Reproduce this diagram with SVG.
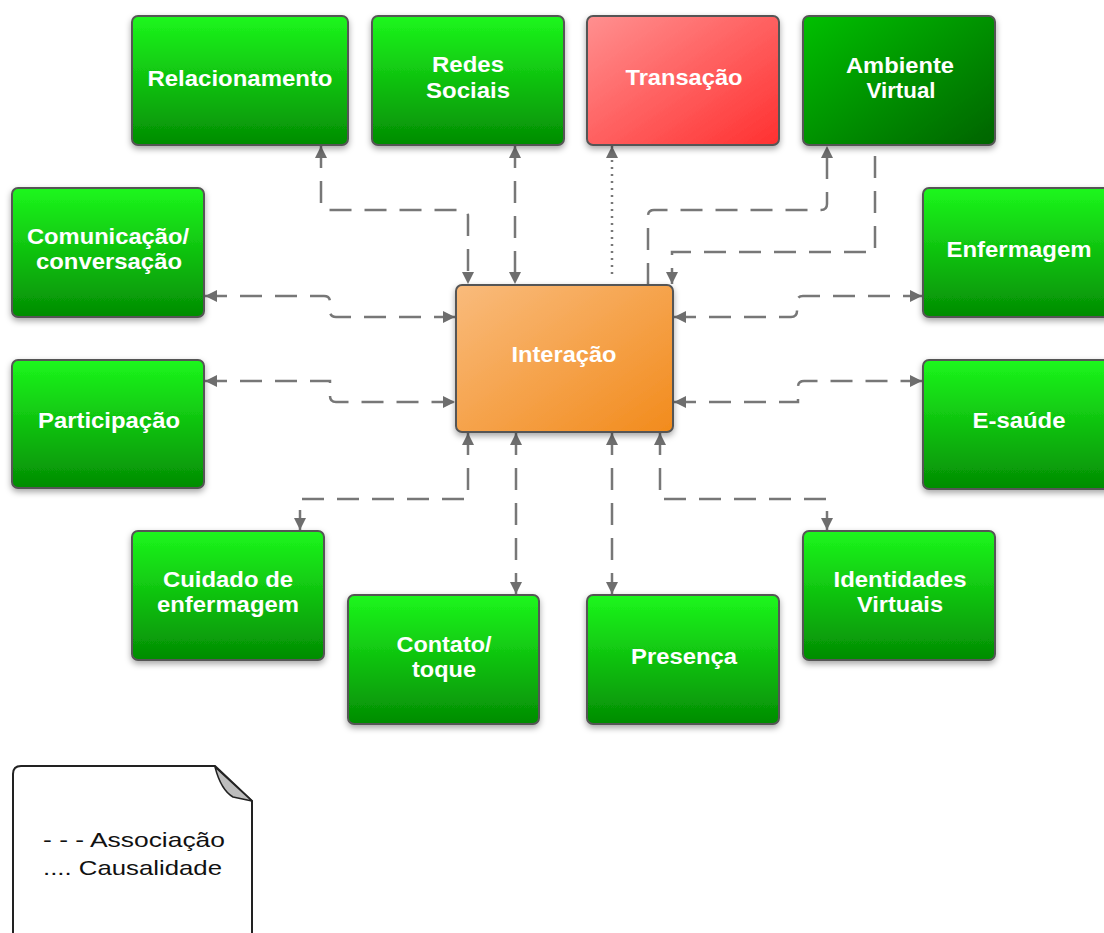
<svg xmlns="http://www.w3.org/2000/svg" width="1104" height="933" viewBox="0 0 1104 933">
<defs>
<linearGradient id="gGreen" x1="0" y1="0" x2="0" y2="1">
<stop offset="0" stop-color="#1cf71c"/>
<stop offset="1" stop-color="#038c03"/>
</linearGradient>
<linearGradient id="gDark" x1="0" y1="0" x2="1" y2="1">
<stop offset="0" stop-color="#00c000"/>
<stop offset="1" stop-color="#006300"/>
</linearGradient>
<linearGradient id="gRed" x1="0" y1="0" x2="1" y2="1">
<stop offset="0" stop-color="#ff9090"/>
<stop offset="1" stop-color="#ff3030"/>
</linearGradient>
<linearGradient id="gOrange" x1="0" y1="0" x2="1" y2="1">
<stop offset="0" stop-color="#f9bb7c"/>
<stop offset="1" stop-color="#f28b1c"/>
</linearGradient>
<filter id="shadow" x="-10%" y="-10%" width="125%" height="130%">
<feDropShadow dx="0" dy="3" stdDeviation="3" flood-color="#000" flood-opacity="0.35"/>
</filter>
<marker id="arrow" viewBox="0 0 12 12" refX="12" refY="6" markerWidth="12" markerHeight="12" markerUnits="userSpaceOnUse" orient="auto-start-reverse">
<path d="M0,0 L12,6 L0,12 Z" fill="#6e6e6e"/>
</marker>
</defs>
<style>
.box { stroke: #555; stroke-width: 2; filter: url(#shadow); }
.green { fill: url(#gGreen); }
.lbl { fill: #fff; font-family: "Liberation Sans", Arial, sans-serif; font-weight: bold; font-size: 22px; text-anchor: middle; }
.conn { fill: none; stroke: #777; stroke-width: 2.5; stroke-dasharray: 22 13; }
.dot { fill: none; stroke: #777; stroke-width: 2.5; stroke-dasharray: 2 5; }
.legend { font-family: "Liberation Sans", Arial, sans-serif; font-size: 21px; fill: #111; }
</style>
<rect width="1104" height="933" fill="#fff"/>

<g id="connectors">
<path class="conn" d="M321,146 V204 Q321,210 327,210 H462 Q468,210 468,216 V284" marker-start="url(#arrow)" marker-end="url(#arrow)"/>
<path class="conn" d="M515,146 V284" marker-start="url(#arrow)" marker-end="url(#arrow)"/>
<path class="dot" d="M612,274 V146" marker-end="url(#arrow)"/>
<path class="conn" d="M648,285 V216 Q648,210 654,210 H821 Q827,210 827,204 V146" marker-end="url(#arrow)"/>
<path class="conn" d="M875,156 V252 H672 V284" marker-end="url(#arrow)"/>
<path class="conn" d="M205,296 H324 Q330,296 330,302 V311 Q330,317 336,317 H455" marker-start="url(#arrow)" marker-end="url(#arrow)"/>
<path class="conn" d="M205,381 H330 V396 Q330,402 336,402 H455" marker-start="url(#arrow)" marker-end="url(#arrow)"/>
<path class="conn" d="M674,317 H791 Q797,317 797,311 V302 Q797,296 803,296 H922" marker-start="url(#arrow)" marker-end="url(#arrow)"/>
<path class="conn" d="M674,402 H798 V387 Q798,381 804,381 H922" marker-start="url(#arrow)" marker-end="url(#arrow)"/>
<path class="conn" d="M468,433 V499 H300 V530" marker-start="url(#arrow)" marker-end="url(#arrow)"/>
<path class="conn" d="M516,433 V594" marker-start="url(#arrow)" marker-end="url(#arrow)"/>
<path class="conn" d="M612,433 V594" marker-start="url(#arrow)" marker-end="url(#arrow)"/>
<path class="conn" d="M660,433 V499 H827 V530" marker-start="url(#arrow)" marker-end="url(#arrow)"/>
</g>

<g id="relacionamento">
<rect class="box green" x="132" y="16" width="216" height="129" rx="6"/>
<text class="lbl" x="240" y="86" textLength="185" lengthAdjust="spacingAndGlyphs">Relacionamento</text>
</g>
<g id="redes-sociais">
<rect class="box green" x="372" y="16" width="192" height="129" rx="6"/>
<text class="lbl" x="468" y="72" textLength="72" lengthAdjust="spacingAndGlyphs">Redes</text>
<text class="lbl" x="468" y="98" textLength="84" lengthAdjust="spacingAndGlyphs">Sociais</text>
</g>
<g id="transacao">
<rect class="box" fill="url(#gRed)" x="587" y="16" width="192" height="129" rx="6"/>
<text class="lbl" x="684" y="85" textLength="117" lengthAdjust="spacingAndGlyphs">Transação</text>
</g>
<g id="ambiente-virtual">
<rect class="box" fill="url(#gDark)" x="803" y="16" width="192" height="129" rx="6"/>
<text class="lbl" x="900" y="73" textLength="108" lengthAdjust="spacingAndGlyphs">Ambiente</text>
<text class="lbl" x="901" y="98" textLength="69" lengthAdjust="spacingAndGlyphs">Virtual</text>
</g>
<g id="comunicacao">
<rect class="box green" x="12" y="188" width="192" height="129" rx="6"/>
<text class="lbl" x="108" y="244" textLength="162" lengthAdjust="spacingAndGlyphs">Comunicação/</text>
<text class="lbl" x="109" y="269" textLength="146" lengthAdjust="spacingAndGlyphs">conversação</text>
</g>
<g id="participacao">
<rect class="box green" x="12" y="360" width="192" height="128" rx="6"/>
<text class="lbl" x="109" y="428" textLength="142" lengthAdjust="spacingAndGlyphs">Participação</text>
</g>
<g id="enfermagem">
<rect class="box green" x="923" y="188" width="192" height="129" rx="6"/>
<text class="lbl" x="1019" y="257" textLength="145" lengthAdjust="spacingAndGlyphs">Enfermagem</text>
</g>
<g id="e-saude">
<rect class="box green" x="923" y="360" width="192" height="129" rx="6"/>
<text class="lbl" x="1019" y="428" textLength="93" lengthAdjust="spacingAndGlyphs">E-saúde</text>
</g>
<g id="interacao">
<rect class="box" fill="url(#gOrange)" x="456" y="285" width="217" height="147" rx="6"/>
<text class="lbl" x="564" y="362" textLength="105" lengthAdjust="spacingAndGlyphs">Interação</text>
</g>
<g id="cuidado-de-enfermagem">
<rect class="box green" x="132" y="531" width="192" height="129" rx="6"/>
<text class="lbl" x="228" y="587" textLength="130" lengthAdjust="spacingAndGlyphs">Cuidado de</text>
<text class="lbl" x="228" y="612" textLength="142" lengthAdjust="spacingAndGlyphs">enfermagem</text>
</g>
<g id="contato-toque">
<rect class="box green" x="348" y="595" width="191" height="129" rx="6"/>
<text class="lbl" x="444" y="652" textLength="95" lengthAdjust="spacingAndGlyphs">Contato/</text>
<text class="lbl" x="444" y="677" textLength="64" lengthAdjust="spacingAndGlyphs">toque</text>
</g>
<g id="presenca">
<rect class="box green" x="587" y="595" width="192" height="129" rx="6"/>
<text class="lbl" x="684" y="664" textLength="106" lengthAdjust="spacingAndGlyphs">Presença</text>
</g>
<g id="identidades-virtuais">
<rect class="box green" x="803" y="531" width="192" height="129" rx="6"/>
<text class="lbl" x="900" y="587" textLength="133" lengthAdjust="spacingAndGlyphs">Identidades</text>
<text class="lbl" x="900" y="612" textLength="86" lengthAdjust="spacingAndGlyphs">Virtuais</text>
</g>

<g id="legend">
<path d="M13,945 V774 Q13,766 21,766 H215 L252,801 V945" fill="#fff" stroke="#222" stroke-width="2"/>
<path d="M215,767 L252,801 L233,797 Q221,790 215,767 Z" fill="#bdbdbd" stroke="#222" stroke-width="1.5" stroke-linejoin="round"/>
<text class="legend" x="43" y="847" textLength="182" lengthAdjust="spacingAndGlyphs">- - - Associação</text>
<text class="legend" x="43" y="875" textLength="179" lengthAdjust="spacingAndGlyphs">.... Causalidade</text>
</g>
</svg>
